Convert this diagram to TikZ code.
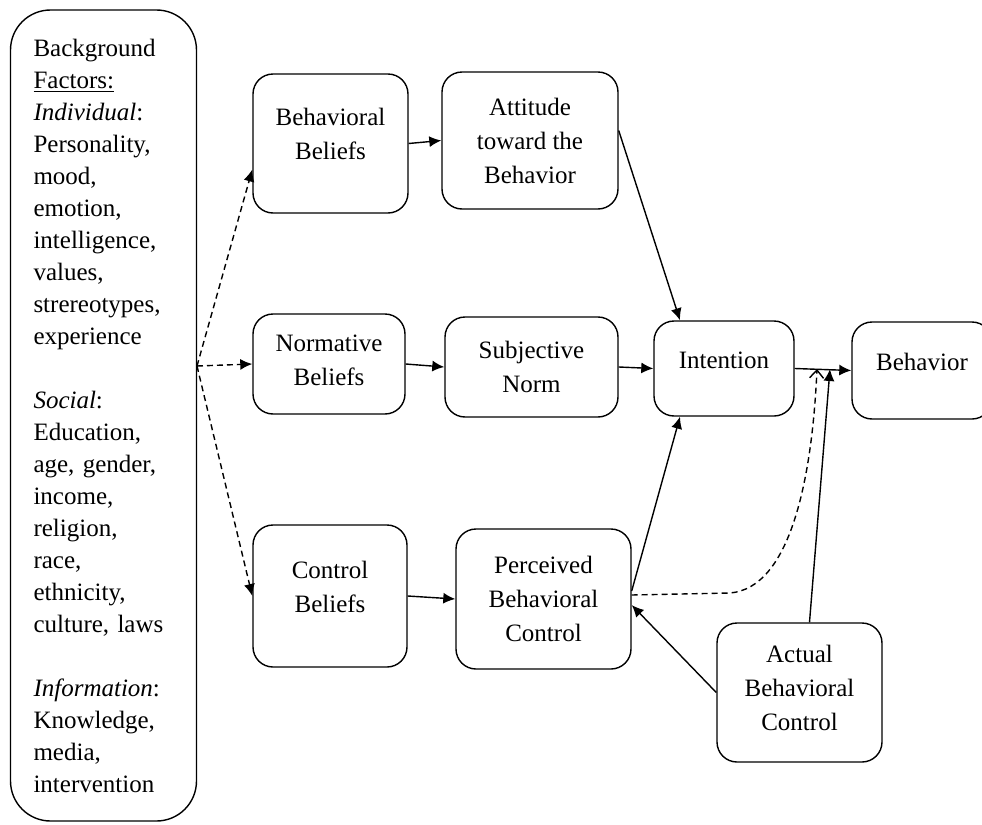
\documentclass[tikz,border=0pt]{standalone}
\usepackage{fontspec}
\setmainfont{Liberation Serif}
\usetikzlibrary{arrows.meta}

\tikzset{
  box/.style={draw, rounded corners=10pt, line width=0.7pt, align=center, inner sep=2pt,
              font=\fontsize{12.5}{17}\selectfont},
  arr/.style={line width=0.7pt, -{Latex[length=6pt,width=5.5pt]}},
  darr/.style={arr, dash pattern=on 3pt off 2pt},
}

\begin{document}
\begin{tikzpicture}[x=0.5pt, y=-0.5pt, font=\fontsize{12.5}{16}\selectfont]
  \useasboundingbox (0, 0) rectangle (982, 825);
  \node[box, rounded corners=20pt, text width=70pt, align=left, inner xsep=11.5pt,
        minimum height=405.5pt, font=\fontsize{12.5}{16}\selectfont] (bg) at (103.5, 415.5)
    {Background\\ \underline{Factors:}\\ \textit{Individual}:\\ Personality,\\ mood,\\ emotion,\\
     intelligence,\\ values,\\ strereotypes,\\ experience\\[16pt] \textit{Social}:\\ Education,\\
     age, gender,\\ income,\\ religion,\\ race,\\ ethnicity,\\ culture, laws\\[16pt]
     \textit{Information}:\\ Knowledge,\\ media,\\ intervention};
  \node[box, minimum width=77.5pt, minimum height=69.5pt, text depth=10pt] (bb) at (330.5, 143.5) {Behavioral\\ Beliefs};
  \node[box, minimum width=88pt, minimum height=68.5pt] (att) at (530, 140.5) {Attitude\\ toward the\\ Behavior};
  \node[box, minimum width=76pt, minimum height=50pt, text depth=4pt] (nb) at (329, 364) {Normative\\ Beliefs};
  \node[box, minimum width=86.5pt, minimum height=50pt] (sn) at (531.5, 367) {Subjective\\ Norm};
  \node[box, minimum width=70pt, minimum height=47.5pt, text depth=8.5pt] (int) at (724, 368.5) {Intention};
  \node[box, minimum width=70pt, minimum height=48.5pt, text depth=8.5pt] (beh) at (922, 370.5) {Behavior};
  \node[box, minimum width=77pt, minimum height=71pt, text depth=9pt] (cb) at (330, 596) {Control\\ Beliefs};
  \node[box, minimum width=87.5pt, minimum height=70pt] (pbc) at (543.5, 599) {Perceived\\ Behavioral\\ Control};
  \node[box, minimum width=82.5pt, minimum height=69.5pt, text depth=4.5pt] (act) at (799.5, 692.5) {Actual\\ Behavioral\\ Control};
  \coordinate (fan) at (197, 366);
  \coordinate (joinA) at (830, 369);
  \coordinate (joinB) at (817, 369);
  % background factors to beliefs
  \draw[darr] (fan) -- ([yshift=-13pt]bb.west);
  \draw[darr] (fan) -- (nb.west);
  \draw[darr] (fan) -- (cb.west);
  % beliefs to attitudes
  \draw[arr] (bb.east) -- (att.west);
  \draw[arr] (nb.east) -- (sn.west);
  \draw[arr] (cb.east) -- (pbc.west);
  % to intention and behavior
  \draw[arr] ([yshift=5pt]att.east) -- ([xshift=-22pt]int.north);
  \draw[arr] (sn.east) -- (int.west);
  \draw[arr] ([yshift=4pt]pbc.east) -- ([xshift=-22pt]int.south);
  \draw[arr] (int.east) -- (beh.west);
  \draw[arr] ([xshift=5pt]act.north) -- (joinA);
  \draw[arr] (act.west) -- ([yshift=-3pt]pbc.east);
  \draw[line width=0.7pt, dash pattern=on 3pt off 2pt, -{Straight Barb[length=4pt,width=7pt]}]
    ([yshift=2pt]pbc.east) -- (730, 593) .. controls (790, 588) and (812, 480) .. (joinB);
\end{tikzpicture}
\end{document}
